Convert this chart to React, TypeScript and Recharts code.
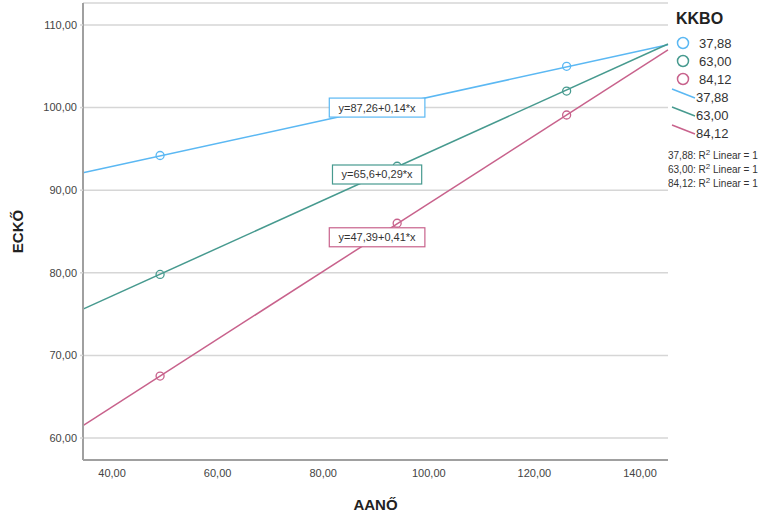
import {
  ComposedChart,
  Line,
  Scatter,
  XAxis,
  YAxis,
  CartesianGrid,
  ReferenceDot,
} from 'recharts'

const FONT = '"Liberation Sans", Arial, sans-serif'

const groups = ['37,88', '63,00', '84,12']
const colors = ['#5bb8f3', '#479a8f', '#c8628c']

// observed points (AANŐ, ECKŐ) per group
const pointsLow = [
  { x: 49.1, y: 94.2 },
  { x: 94.0, y: 100.4 },
  { x: 126.1, y: 105.0 },
]
const pointsMid = [
  { x: 49.1, y: 79.8 },
  { x: 94.0, y: 92.9 },
  { x: 126.1, y: 102.0 },
]
const pointsHigh = [
  { x: 49.1, y: 67.5 },
  { x: 94.0, y: 86.0 },
  { x: 126.1, y: 99.1 },
]

// fit line endpoints at the plot edges
const fitLow = [
  { x: 34.5, y: 92.1 },
  { x: 145.3, y: 107.6 },
]
const fitMid = [
  { x: 34.5, y: 75.6 },
  { x: 145.3, y: 107.7 },
]
const fitHigh = [
  { x: 34.5, y: 61.5 },
  { x: 145.3, y: 107.0 },
]

const equations = ['y=87,26+0,14*x', 'y=65,6+0,29*x', 'y=47,39+0,41*x']
const equationAnchors = [
  { x: 90.2, y: 100.0 },
  { x: 90.2, y: 91.9 },
  { x: 90.2, y: 84.3 },
]

const xTicks = [40, 60, 80, 100, 120, 140]
const yTicks = [60, 70, 80, 90, 100, 110]

const fmt = (v: number) => v.toFixed(2).replace('.', ',')

function EquationBox(props: any) {
  const { cx, cy, text, color } = props
  const w = text.length * 6.4 + 6
  return (
    <g>
      <rect x={cx - w / 2} y={cy - 9.5} width={w} height={19} fill="#fff" stroke={color} strokeWidth={1.2} />
      <text x={cx} y={cy + 4} textAnchor="middle" fontSize={11} fontFamily={FONT} fill="#333">
        {text}
      </text>
    </g>
  )
}

function LegendBox() {
  return (
    <svg width={105} height={200} style={{ fontFamily: FONT, display: 'block' }}>
      <text x={8} y={24} fontSize={16} fontWeight="bold" fill="#222">KKBO</text>
      {groups.map((g, i) => (
        <g key={'p' + g}>
          <circle cx={15} cy={43 + i * 18} r={5.5} fill="none" stroke={colors[i]} strokeWidth={1.5} />
          <text x={31} y={48 + i * 18} fontSize={13} fill="#333">{g}</text>
        </g>
      ))}
      {groups.map((g, i) => (
        <g key={'l' + g}>
          <line x1={4} y1={89 + i * 18} x2={27} y2={98 + i * 18} stroke={colors[i]} strokeWidth={1.5} />
          <text x={28} y={102 + i * 18} fontSize={13} fill="#333">{g}</text>
        </g>
      ))}
      {groups.map((g, i) => (
        <text key={'r' + g} x={0} y={159 + i * 14} fontSize={10} fill="#333">
          {g}: R<tspan dy={-4} fontSize={8}>2</tspan>
          <tspan dy={4}> Linear = 1</tspan>
        </text>
      ))}
    </svg>
  )
}

const pointShape = (color: string) => (props: any) =>
  <circle cx={props.cx} cy={props.cy} r={4} fill="none" stroke={color} strokeWidth={1.3} />

export default function App() {
  const fits = [fitLow, fitMid, fitHigh]
  const points = [pointsLow, pointsMid, pointsHigh]
  return (
    <div style={{ position: 'absolute', left: 0, top: 0, width: 773, height: 518, background: '#fff' }}>
      <ComposedChart width={773} height={518} margin={{ top: 3, right: 105, bottom: 0, left: 0 }}>
        <CartesianGrid vertical={false} stroke="#d6d6d6" strokeWidth={1.5} />
        <XAxis
          type="number"
          dataKey="x"
          domain={[34.5, 145.3]}
          ticks={xTicks}
          tickFormatter={fmt}
          height={58}
          tickSize={0}
          tickMargin={9}
          tickLine={false}
          axisLine={{ stroke: '#a0a0a0', strokeWidth: 2 }}
          tick={{ fill: '#444', fontSize: 11, fontFamily: FONT }}
          label={{
            value: 'AANŐ',
            position: 'insideBottom',
            offset: 8,
            style: { fill: '#222', fontSize: 15, fontWeight: 'bold', fontFamily: FONT },
          }}
        />
        <YAxis
          type="number"
          dataKey="y"
          domain={[57.34, 112.66]}
          ticks={yTicks}
          tickFormatter={fmt}
          width={83}
          tickSize={3}
          tickMargin={3}
          tickLine={{ stroke: '#d6d6d6', strokeWidth: 1.5 }}
          axisLine={{ stroke: '#a0a0a0', strokeWidth: 2 }}
          tick={{ fill: '#444', fontSize: 11, fontFamily: FONT }}
          label={{
            value: 'ECKŐ',
            angle: -90,
            position: 'insideLeft',
            offset: 18,
            style: { fill: '#222', fontSize: 15, fontWeight: 'bold', fontFamily: FONT, textAnchor: 'middle' },
          }}
        />
        {fits.map((d, i) => (
          <Line
            key={'fit' + i}
            data={d}
            dataKey="y"
            type="linear"
            stroke={colors[i]}
            strokeWidth={1.5}
            dot={false}
            activeDot={false}
            isAnimationActive={false}
          />
        ))}
        {points.map((d, i) => (
          <Scatter key={'pts' + i} data={d} dataKey="y" shape={pointShape(colors[i])} isAnimationActive={false} />
        ))}
        {equations.map((t, i) => (
          <ReferenceDot
            key={'eq' + i}
            x={equationAnchors[i].x}
            y={equationAnchors[i].y}
            shape={(p: any) => <EquationBox {...p} text={t} color={colors[i]} />}
          />
        ))}
      </ComposedChart>
      <div style={{ position: 'absolute', left: 668, top: 0, width: 105 }}>
        <LegendBox />
      </div>
    </div>
  )
}
